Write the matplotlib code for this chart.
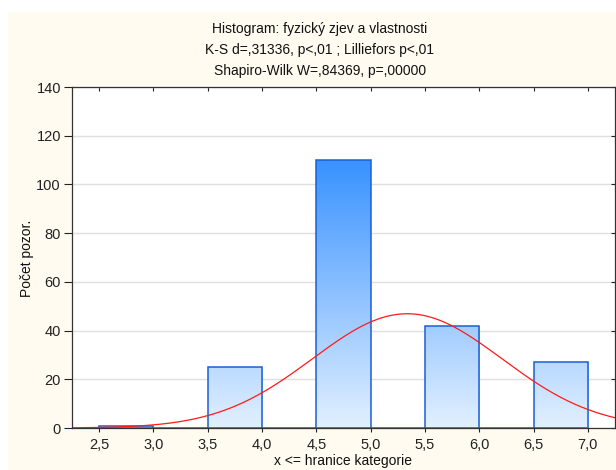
import numpy as np
import matplotlib
matplotlib.use("Agg")
import matplotlib.pyplot as plt
from matplotlib.colors import LinearSegmentedColormap
from matplotlib.patches import Rectangle

plt.rcParams['font.family'] = ['Liberation Sans', 'DejaVu Sans']

# Histogram data: bin upper bounds and observation counts
bin_upper = [3.0, 3.5, 4.0, 4.5, 5.0, 5.5, 6.0, 6.5, 7.0]
counts = [1, 0, 25, 0, 110, 0, 42, 0, 27]
bin_width = 0.5

x_ticks = [2.5, 3.0, 3.5, 4.0, 4.5, 5.0, 5.5, 6.0, 6.5, 7.0]
y_ticks = [0, 20, 40, 60, 80, 100, 120, 140]

title_lines = ["Histogram: fyzický zjev a vlastnosti",
               "K-S d=,31336, p<,01 ; Lilliefors p<,01",
               "Shapiro-Wilk W=,84369, p=,00000"]
x_label = "x <= hranice kategorie"
y_label = "Počet pozor."

W, H = 616, 470
fig = plt.figure(figsize=(W / 100, H / 100), dpi=100)
fig.patch.set_facecolor("white")
# cream panel behind the chart
fig.patches.append(Rectangle((8 / W, 0), 1 - 8 / W, 1 - 12 / H,
                             transform=fig.transFigure, facecolor="#FFFBF0",
                             edgecolor="none", zorder=-10))

ax = fig.add_axes([72 / W, 1 - 428 / H, (615 - 72) / W, (428 - 87) / H])
ax.set_facecolor("white")
ax.set_xlim(2.25, 7.25)
ax.set_ylim(0, 140)

# gradient-filled bars (colour depends on height within the plot)
cmap = LinearSegmentedColormap.from_list("bars", ["#E2F0FF", "#3892FF"])
grad = np.linspace(0, 1, 256).reshape(-1, 1)
for ub, c in zip(bin_upper, counts):
    left = ub - bin_width
    if c > 0:
        im = ax.imshow(grad, cmap=cmap, vmin=0, vmax=1, origin="lower",
                       extent=(left, ub, 0, 110), aspect="auto", zorder=2,
                       interpolation="bilinear")
        rect = Rectangle((left, 0), bin_width, c, facecolor="none",
                         edgecolor="none", transform=ax.transData)
        ax.add_patch(rect)
        im.set_clip_path(rect)
    ax.add_patch(Rectangle((left, 0), bin_width, c, facecolor="none",
                           edgecolor="#1C5ED6", linewidth=1.1, zorder=3))

# expected normal curve from the histogram's mean and standard deviation
vals = np.array(bin_upper)
n = np.array(counts, dtype=float)
N = n.sum()
mu = (vals * n).sum() / N
sd = np.sqrt(((vals - mu) ** 2 * n).sum() / N)
xs = np.linspace(2.25, 7.25, 400)
ys = N * bin_width * np.exp(-0.5 * ((xs - mu) / sd) ** 2) / (sd * np.sqrt(2 * np.pi))
ax.plot(xs, ys, color="#FF1A1A", linewidth=0.9, zorder=4, clip_on=True)

ax.set_xticks(x_ticks)
ax.set_xticklabels([f"{t:.1f}".replace(".", ",") for t in x_ticks])
ax.set_yticks(y_ticks)
ax.set_yticklabels([str(t) for t in y_ticks])
ax.tick_params(axis="both", labelsize=10.5, colors="#222222", length=3,
               width=0.8, top=True, right=True, direction="out")
ax.tick_params(axis="y", length=6, pad=2)
ax.tick_params(axis="x", which="both", top=True, pad=4)
for t in ax.xaxis.get_major_ticks():
    t.tick2line.set_marker(3)
    t.tick2line.set_markersize(3)
for t in ax.yaxis.get_major_ticks():
    t.tick2line.set_marker(0)
    t.tick2line.set_markersize(3)
ax.yaxis.grid(True, color="#E0E0E0", linewidth=1)
ax.set_axisbelow(True)
for s in ax.spines.values():
    s.set_color("#333333")
    s.set_linewidth(0.9)
    s.set_zorder(5)

# axis titles placed in figure pixels
fig.text(343 / W, 1 - 461 / H, x_label, ha="center", va="center",
         fontsize=10, color="#111111")
fig.text(27 / W, 1 - 258 / H, y_label, ha="center", va="center",
         rotation=90, fontsize=10, color="#111111")

for i, line in enumerate(title_lines):
    fig.text(320 / W, 1 - (29 + 21 * i) / H, line, ha="center", va="center",
             fontsize=10, color="#111111")

fig.savefig("out.png", dpi=100, facecolor=fig.get_facecolor())
